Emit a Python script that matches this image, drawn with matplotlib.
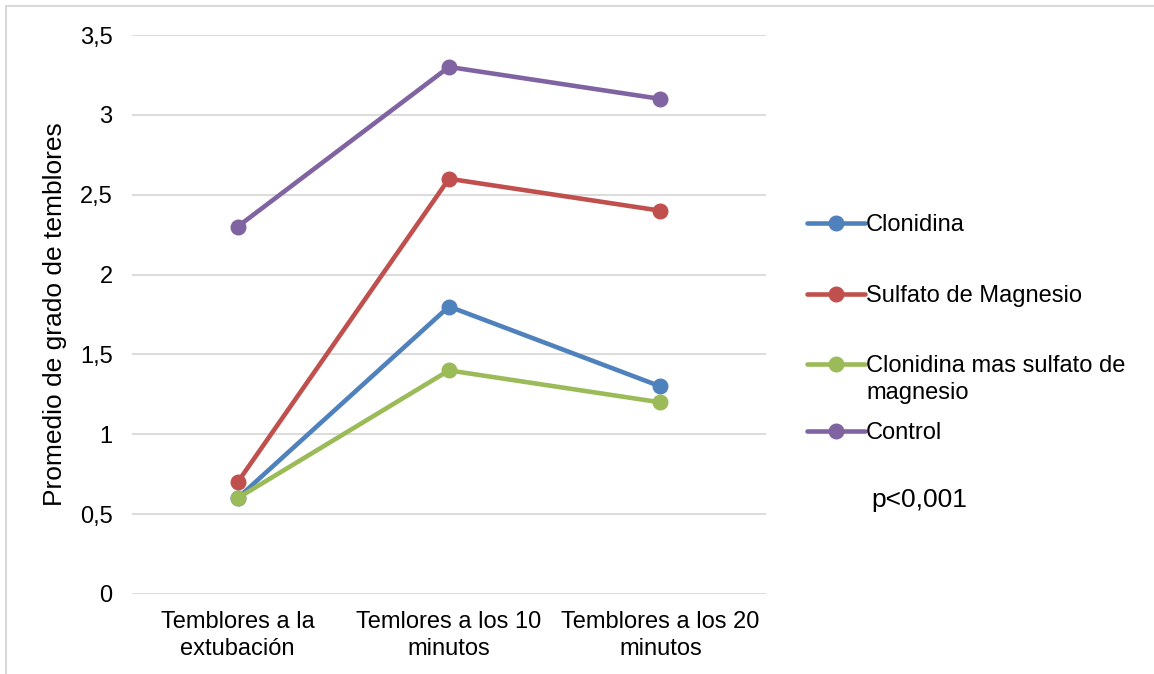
import matplotlib

matplotlib.use("Agg")
import matplotlib.pyplot as plt
from matplotlib.patches import Rectangle
from matplotlib.ticker import FuncFormatter

categories = ["Temblores a la\nextubación", "Temlores a los 10\nminutos", "Temblores a los 20\nminutos"]
clonidina = [0.6, 1.8, 1.3]
sulfato = [0.7, 2.6, 2.4]
clon_mg = [0.6, 1.4, 1.2]
control = [2.3, 3.3, 3.1]
names = ["Clonidina", "Sulfato de Magnesio", "Clonidina mas sulfato de", "Control"]
colors = ["#4F81BD", "#C0504D", "#9BBB59", "#8064A2"]
values = [clonidina, sulfato, clon_mg, control]

W, H = 1154, 674
FS = 17

plt.rcParams["font.family"] = ["Liberation Sans", "DejaVu Sans"]
fig = plt.figure(figsize=(W / 100, H / 100), dpi=100)
ax = fig.add_axes([132 / W, 80 / H, 634 / W, 559 / H])

x = list(range(len(categories)))
lines = []
for name, vals, col in zip(names, values, colors):
    ln, = ax.plot(x, vals, "-o", color=col, lw=3.3, ms=10.5, label=name, solid_capstyle="round")
    lines.append(ln)

ax.set_xlim(-0.5, 2.5)
ax.set_ylim(0, 3.5)
ax.set_yticks([0, 0.5, 1, 1.5, 2, 2.5, 3, 3.5])
ax.yaxis.set_major_formatter(FuncFormatter(lambda v, p: f"{v:g}".replace(".", ",")))
ax.set_xticks(x)
ax.set_xticklabels(categories, fontsize=FS, linespacing=1.3)
ax.tick_params(axis="y", length=0, pad=14, labelsize=FS)
ax.tick_params(axis="x", length=0, pad=12)
ax.grid(axis="y", color="#D9D9D9", lw=1.3)
ax.set_axisbelow(True)
for s in ax.spines.values():
    s.set_visible(False)
ax.set_ylabel("Promedio de grado de temblores", fontsize=19)
ax.yaxis.set_label_coords(-0.103, 0.5)

# legend entries placed one by one (Excel-style uneven spacing)
legend_y = [225, 296, 366, 433]
for ln, name, yy in zip(lines, names, legend_y):
    fig.legend(handles=[ln], labels=[name], loc="center left",
               bbox_to_anchor=(807 / W, 1 - yy / H), bbox_transform=fig.transFigure,
               frameon=False, fontsize=FS, handlelength=2.45, handletextpad=0.05,
               borderaxespad=0, borderpad=0)
fig.text(866 / W, 1 - 393 / H, "magnesio", fontsize=FS, va="center", ha="left")

fig.text(871 / W, 1 - 500 / H, "p<0,001", fontsize=19, va="center", ha="left")

fig.patches.append(Rectangle((6 / W, -0.1), 1.2, 1.1 - 6 / H, transform=fig.transFigure,
                             fill=False, edgecolor="#D9D9D9", lw=1.5))

fig.savefig("out.png", dpi=100)
